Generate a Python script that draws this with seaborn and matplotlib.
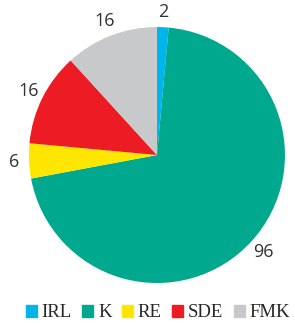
import matplotlib
matplotlib.use('Agg')
import matplotlib.pyplot as plt
import matplotlib.patches as mpatches
import seaborn as sns

# data
categories = ['IRL', 'K', 'RE', 'SDE', 'FMK']
values = [2, 96, 6, 16, 16]
colors = sns.color_palette(['#00b5ec', '#00a88e', '#ffe600', '#ed1c24', '#c8c9cb'])

sns.set_style('white')

fig = plt.figure(figsize=(2.95, 3.24), dpi=100)
ax = fig.add_axes([0.098, 0.1265, 0.868, 0.790])
wedges, texts = ax.pie(values, colors=colors, startangle=90, counterclock=False,
                       labels=[str(v) for v in values], labeldistance=1.12,
                       wedgeprops={'linewidth': 0},
                       textprops={'fontsize': 13, 'color': '#333333', 'family': 'Open Sans'})
for t in texts:
    t.set_ha('center')
    t.set_va('center')
ax.set_xlim(-1, 1)
ax.set_ylim(-1, 1)
ax.set_aspect('auto')
ax.axis('off')

handles = [mpatches.Patch(color=c, label=l) for c, l in zip(colors, categories)]
fig.legend(handles=handles, loc='center', bbox_to_anchor=(0.535, 0.035), ncol=5,
           frameon=False, handlelength=0.6, handleheight=0.6, handletextpad=0.25,
           columnspacing=0.55, borderpad=0, borderaxespad=0,
           prop={'family': 'Liberation Serif', 'size': 13.5})

fig.savefig('out.png', dpi=100)
